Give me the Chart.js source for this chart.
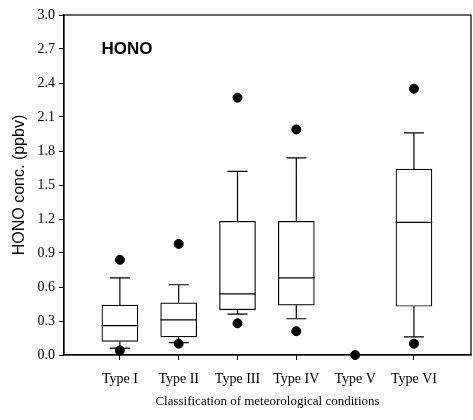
<!DOCTYPE html>
<html lang="en">
<head>
    <meta charset="UTF-8">
    <title>HONO box plot</title>
    <script src="https://cdn.jsdelivr.net/npm/chart.js"></script>
    <style>
        body {
            margin: 0;
            padding: 0;
            background: #fff;
        }
        canvas {
            display: block;
        }
    </style>
</head>
<body>

<canvas id="honoChart" width="473" height="420"></canvas>

<script>
    // categories and box statistics (ppbv)
    const categories = ['Type I', 'Type II', 'Type III', 'Type IV', 'Type V', 'Type VI'];
    const q1 = [0.12, 0.16, 0.40, 0.44, null, 0.43];
    const median = [0.26, 0.31, 0.54, 0.68, null, 1.17];
    const q3 = [0.44, 0.46, 1.18, 1.18, null, 1.64];
    const whiskerLow = [0.06, 0.11, 0.36, 0.32, null, 0.16];
    const whiskerHigh = [0.68, 0.62, 1.62, 1.74, null, 1.96];
    const outlierHigh = [0.84, 0.98, 2.27, 1.99, null, 2.35];
    const outlierLow = [0.04, 0.10, 0.28, 0.21, 0.00, 0.10];
    const yTicks = [0, 0.3, 0.6, 0.9, 1.2, 1.5, 1.8, 2.1, 2.4, 2.7, 3.0];

    const capHalf = 0.17;   // whisker cap half width, in category units
    const boxHalf = 0.31;   // box half width, in category units

    // boxes as floating bars
    const boxes = [];
    categories.forEach((c, i) => {
        if (q1[i] !== null) boxes.push({x: i + 1, y: [q1[i], q3[i]]});
    });

    // whiskers, caps and medians as broken line segments
    const segments = [];
    categories.forEach((c, i) => {
        if (q1[i] === null) return;
        const x = i + 1;
        segments.push({x: x, y: q3[i]}, {x: x, y: whiskerHigh[i]}, {x: x, y: null});
        segments.push({x: x - capHalf, y: whiskerHigh[i]}, {x: x + capHalf, y: whiskerHigh[i]}, {x: x, y: null});
        segments.push({x: x, y: q1[i]}, {x: x, y: whiskerLow[i]}, {x: x, y: null});
        segments.push({x: x - capHalf, y: whiskerLow[i]}, {x: x + capHalf, y: whiskerLow[i]}, {x: x, y: null});
        segments.push({x: x - boxHalf, y: median[i]}, {x: x + boxHalf, y: median[i]}, {x: x, y: null});
    });

    const outliers = [];
    categories.forEach((c, i) => {
        if (outlierHigh[i] !== null) outliers.push({x: i + 1, y: outlierHigh[i]});
        if (outlierLow[i] !== null) outliers.push({x: i + 1, y: outlierLow[i]});
    });

    // frame round the plot and the HONO label
    const framePlugin = {
        id: 'frame',
        afterDraw(chart) {
            const {ctx, chartArea, scales} = chart;
            ctx.save();
            ctx.strokeStyle = '#000';
            ctx.lineWidth = 1.2;
            ctx.strokeRect(chartArea.left, chartArea.top, chartArea.right - chartArea.left, chartArea.bottom - chartArea.top);
            ctx.fillStyle = '#000';
            ctx.font = 'bold 17px "Liberation Sans", Arial, sans-serif';
            ctx.textAlign = 'center';
            ctx.textBaseline = 'middle';
            ctx.fillText('HONO', scales.x.getPixelForValue(1.12), scales.y.getPixelForValue(2.7));
            ctx.restore();
        }
    };

    const serif = '"Liberation Serif", "Times New Roman", serif';

    new Chart(document.getElementById('honoChart'), {
        data: {
            datasets: [{
                type: 'bar',
                data: boxes,
                backgroundColor: '#fff',
                borderColor: '#000',
                borderWidth: 1.2,
                borderSkipped: false,
                barThickness: 36,
                order: 3
            }, {
                type: 'line',
                data: segments,
                borderColor: '#000',
                borderWidth: 1.2,
                pointRadius: 0,
                spanGaps: false,
                tension: 0,
                order: 2
            }, {
                type: 'scatter',
                data: outliers,
                backgroundColor: '#000',
                borderColor: '#000',
                pointRadius: 4.5,
                clip: false,
                order: 1
            }]
        },
        options: {
            responsive: false,
            animation: false,
            devicePixelRatio: 1,
            layout: {
                autoPadding: false,
                padding: {top: 15, right: 2, left: 0, bottom: 0}
            },
            plugins: {
                legend: {display: false},
                tooltip: {enabled: false}
            },
            scales: {
                x: {
                    type: 'linear',
                    offset: false,
                    min: 0.05,
                    max: 6.97,
                    afterBuildTicks: scale => {
                        scale.ticks = categories.map((c, i) => ({value: i + 1}));
                    },
                    afterFit: scale => {
                        scale.height = 65;
                        scale.paddingLeft = 0;
                        scale.paddingRight = 0;
                    },
                    ticks: {
                        autoSkip: false,
                        maxRotation: 0,
                        padding: 11,
                        color: '#000',
                        font: {family: serif, size: 14},
                        callback: v => categories[v - 1]
                    },
                    grid: {
                        drawOnChartArea: false,
                        offset: false,
                        tickLength: 5,
                        color: '#000'
                    },
                    border: {color: '#000', width: 1.2},
                    title: {
                        display: true,
                        text: 'Classification of meteorological conditions',
                        color: '#000',
                        font: {family: serif, size: 13},
                        padding: {top: 0, bottom: 11}
                    }
                },
                y: {
                    min: 0,
                    max: 3,
                    afterBuildTicks: scale => {
                        scale.ticks = yTicks.map(v => ({value: v}));
                    },
                    afterFit: scale => {
                        scale.width = 64;
                    },
                    ticks: {
                        padding: 4,
                        color: '#000',
                        font: {family: serif, size: 14},
                        callback: v => v.toFixed(1)
                    },
                    grid: {
                        drawOnChartArea: false,
                        tickLength: 5,
                        color: '#000'
                    },
                    border: {color: '#000', width: 1.2},
                    title: {
                        display: true,
                        text: 'HONO conc. (ppbv)',
                        color: '#000',
                        font: {family: '"Liberation Sans", Arial, sans-serif', size: 16},
                        padding: {top: 10, bottom: 0}
                    }
                }
            }
        },
        plugins: [framePlugin]
    });
</script>

</body>
</html>
